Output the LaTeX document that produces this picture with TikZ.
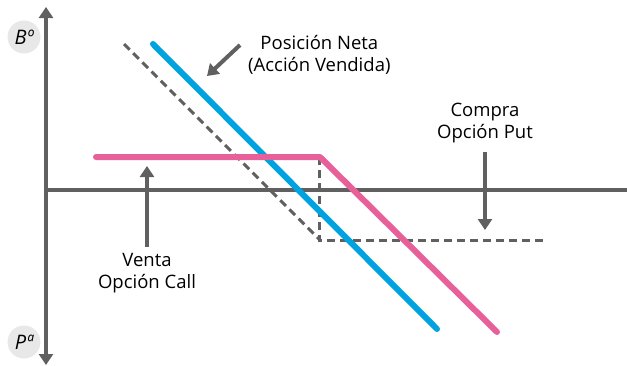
\documentclass[tikz,border=0pt]{standalone}
\usepackage{fontspec}
\setmainfont{Open Sans}
\usetikzlibrary{arrows.meta}
\definecolor{axisgray}{HTML}{606060}
\definecolor{netblue}{HTML}{00A3E0}
\definecolor{putpink}{HTML}{E8609A}
\definecolor{circgray}{HTML}{E8E8E8}
\begin{document}
\begin{tikzpicture}[x=1pt,y=-1pt,
  axis/.style={draw=axisgray,line width=4pt,-{Triangle[length=11pt,width=14pt]}},
  pointer/.style={draw=axisgray,line width=4pt,-{Triangle[length=11pt,width=14pt]}},
  lbl/.style={font=\fontsize{18.5}{22}\selectfont,align=center,text=black,inner sep=0pt},
  badge/.style={circle,fill=circgray,minimum size=33pt,inner sep=0pt,font=\fontsize{20}{20}\selectfont\itshape},
  payoff/.style={line width=6pt,line cap=round,line join=round},
  dashline/.style={draw=axisgray,line width=3pt,dash pattern=on 8pt off 5pt}]
\useasboundingbox (0,0) rectangle (627,365);
\clip (0,0) rectangle (627,365);
% axes
\coordinate (ytop) at (46,7);
\coordinate (ybot) at (46,365);
\coordinate (yorig) at (46,190);
\coordinate (xl) at (44,190);
\coordinate (xr) at (640,190);
\draw[axis] (yorig) -- (ytop);
\draw[axis] (yorig) -- (ybot);
\draw[axis] (xl) -- (xr);
\node[badge] (B) at (24,37) {B\textordmasculine};
\node[badge] (P) at (24,342) {P\textordfeminine};
% dashed stock line
\coordinate (d1) at (124,44);
\coordinate (d2) at (319,239);
\coordinate (d3) at (319,157);
\coordinate (d4) at (545,240);
\draw[dashline] (d1) -- (d2);
\draw[dashline] (d3) -- (d2 |- d4) -- (d4);
% net position
\coordinate (b1) at (153,44);
\coordinate (b2) at (437,329);
\draw[payoff,netblue] (b1) -- (b2);
% put/call
\coordinate (p1) at (96,157);
\coordinate (p2) at (320,157);
\coordinate (p3) at (497,332);
\draw[payoff,putpink] (p1) -- (p2) -- (p3);
% labels
\node[lbl,anchor=west] (neta) at (248,55) {Posición Neta\\(Acción Vendida)};
\node[lbl] (compra) at (485,123) {Compra\\Opción Put};
\node[lbl] (venta) at (147,273) {Venta\\Opción Call};
\coordinate (na) at (240,45);
\coordinate (nt) at (207,76);
\draw[pointer] (na) -- (nt);
\coordinate (ca) at (485,152);
\coordinate (ct) at (485,230);
\draw[pointer] (ca) -- (ct);
\coordinate (va) at (147,247);
\coordinate (vt) at (147,166);
\draw[pointer] (va) -- (vt);
\end{tikzpicture}
\end{document}
